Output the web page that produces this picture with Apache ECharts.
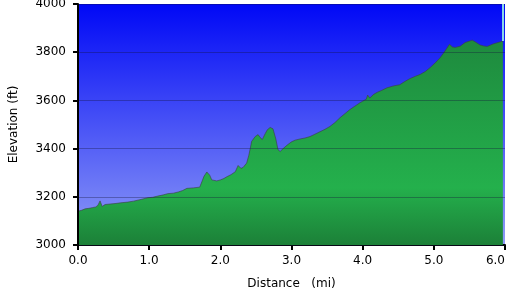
<!DOCTYPE html>
<html>
<head>
<meta charset="utf-8">
<script src="https://cdn.jsdelivr.net/npm/echarts@6/dist/echarts.min.js"></script>
<style>html,body{margin:0;padding:0;background:#fff;}#c{width:508px;height:298px;}</style>
</head>
<body>
<div id="c"></div>
<script>
var distances = [0.00,0.05,0.10,0.15,0.20,0.25,0.28,0.31,0.33,0.34,0.38,0.45,0.52,0.60,0.70,0.78,0.87,0.98,1.05,1.12,1.20,1.26,1.34,1.41,1.47,1.53,1.62,1.71,1.74,1.77,1.81,1.85,1.88,1.90,1.95,2.00,2.05,2.09,2.15,2.21,2.25,2.29,2.32,2.37,2.40,2.42,2.44,2.49,2.53,2.56,2.59,2.63,2.66,2.70,2.74,2.78,2.81,2.84,2.89,2.94,3.00,3.05,3.12,3.19,3.26,3.33,3.40,3.47,3.54,3.61,3.68,3.75,3.82,3.89,3.96,4.05,4.07,4.10,4.15,4.20,4.27,4.34,4.43,4.52,4.59,4.66,4.74,4.81,4.88,4.95,5.02,5.09,5.14,5.18,5.22,5.26,5.30,5.37,5.44,5.50,5.54,5.58,5.65,5.70,5.75,5.83,5.90,5.97];
var elevations = [3140,3144,3150,3152,3155,3158,3165,3183,3175,3160,3168,3170,3172,3175,3178,3182,3188,3196,3198,3203,3208,3213,3215,3220,3226,3235,3237,3240,3262,3285,3303,3290,3270,3263,3266,3270,3276,3283,3292,3304,3330,3318,3322,3340,3372,3400,3430,3450,3458,3446,3438,3462,3478,3488,3482,3440,3396,3388,3402,3415,3428,3435,3440,3444,3450,3460,3470,3480,3492,3508,3528,3545,3562,3576,3590,3605,3622,3610,3624,3633,3642,3652,3660,3665,3678,3690,3700,3708,3720,3737,3756,3778,3798,3815,3833,3822,3820,3825,3840,3846,3850,3843,3830,3826,3824,3834,3840,3846];
var yTicks = [3000,3200,3400,3600,3800,4000];
var profile = distances.map(function(d,i){return [d, elevations[i]];});

var chart = echarts.init(document.getElementById('c'), null, {renderer:'canvas'});
var font = 'DejaVu Sans';
chart.setOption({
  animation:false,
  backgroundColor:'#ffffff',
  grid:{left:78,right:3,top:4,bottom:53,show:true,borderWidth:0,containLabel:false,outerBoundsMode:'none',
    backgroundColor:new echarts.graphic.LinearGradient(0,0,0,1,[{offset:0,color:'#0008f6'},{offset:1,color:'#909df6'}])},
  xAxis:{type:'value',min:0,max:6,interval:1,
    name:'Distance   (mi)',nameLocation:'middle',nameGap:33,
    nameTextStyle:{fontFamily:font,fontSize:12,color:'#000'},
    axisLine:{show:true,onZero:false,lineStyle:{color:'#000',width:2}},
    axisTick:{show:true,length:5,lineStyle:{color:'#000',width:2}},
    axisLabel:{fontFamily:font,fontSize:12,color:'#000',margin:10,alignMaxLabel:'right',
      formatter:function(v){return v.toFixed(1);}},
    splitLine:{show:false}},
  yAxis:{type:'value',min:3000,max:4000,interval:200,z:3,
    name:'Elevation (ft)',nameLocation:'middle',nameGap:58,nameRotate:90,
    nameTextStyle:{fontFamily:font,fontSize:12,color:'#000'},
    axisLine:{show:true,lineStyle:{color:'#000',width:2}},
    axisTick:{show:true,length:5,lineStyle:{color:'#000',width:2}},
    axisLabel:{fontFamily:font,fontSize:12,color:'#000',margin:12,
      formatter:function(v){return yTicks.indexOf(v)>=0?String(v):'';}},
    splitLine:{show:true,lineStyle:{color:'rgba(20,20,60,0.35)',width:1}}},
  series:[{
    type:'line',data:profile,showSymbol:false,symbol:'none',z:2,
    lineStyle:{color:'rgba(60,60,70,0.6)',width:1},
    areaStyle:{opacity:1,color:{type:'linear',x:0,y:40,x2:0,y2:245,global:true,
      colorStops:[{offset:0,color:'#1e8a3e'},{offset:0.72,color:'#24b04c'},{offset:1,color:'#1c8038'}]}},
    markLine:{silent:true,symbol:'none',label:{show:false},
      lineStyle:{color:'#8ad8e6',width:2,type:'solid'},
      data:[[{coord:[5.975,3846]},{coord:[5.975,4000]}]]}
  }]
});
</script>
</body>
</html>
